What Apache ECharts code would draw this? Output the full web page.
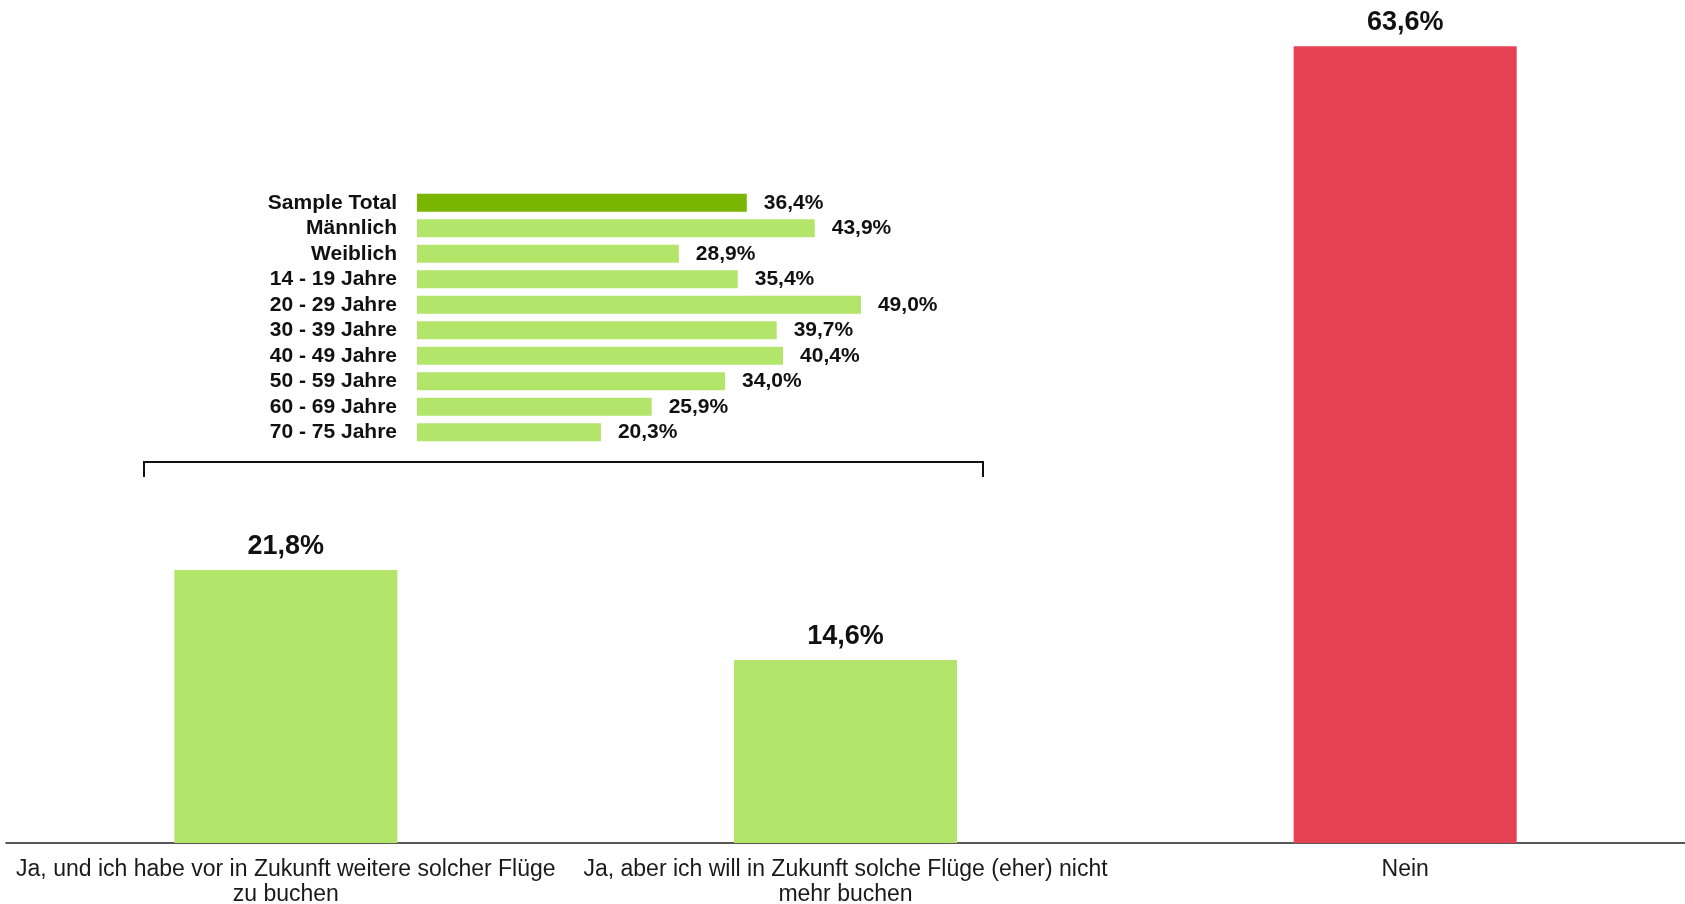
<!DOCTYPE html>
<html>
<head>
<meta charset="utf-8">
<script src="https://cdn.jsdelivr.net/npm/echarts@6/dist/echarts.min.js"></script>
<style>
  html, body { margin: 0; padding: 0; background: #fff; }
  #main { width: 1685px; height: 904px; }
</style>
</head>
<body>
<div id="main"></div>
<script>
// Hauptfrage
var mainCategories = [
    'Ja, und ich habe vor in Zukunft weitere solcher Flüge\nzu buchen',
    'Ja, aber ich will in Zukunft solche Flüge (eher) nicht\nmehr buchen',
    'Nein'
];
var mainValues = [21.8, 14.6, 63.6];

// Aufschlüsselung "Ja" gesamt
var groupNames = ['Sample Total', 'Männlich', 'Weiblich', '14 - 19 Jahre', '20 - 29 Jahre',
    '30 - 39 Jahre', '40 - 49 Jahre', '50 - 59 Jahre', '60 - 69 Jahre', '70 - 75 Jahre'];
var groupValues = [36.4, 43.9, 28.9, 35.4, 49.0, 39.7, 40.4, 34.0, 25.9, 20.3];

var lightGreen = '#b2e56a';
var darkGreen = '#7ab600';
var red = '#e64253';

function pct(v) {
    return v.toFixed(1).replace('.', ',') + '%';
}

var chartDom = document.getElementById('main');
var myChart = echarts.init(chartDom);
var option;

option = {
    animation: false,
    textStyle: { fontFamily: 'Liberation Sans, Arial, sans-serif' },
    grid: [
        { left: 6, right: 0, top: 0, bottom: 61, outerBoundsMode: 'none' },
        { left: 417, width: 453, top: 190, height: 255, outerBoundsMode: 'none' }
    ],
    xAxis: [
        {
            gridIndex: 0,
            type: 'category',
            data: mainCategories,
            axisLine: { lineStyle: { color: '#222', width: 1.5 } },
            axisTick: { show: false },
            axisLabel: {
                color: '#1a1a1a',
                fontSize: 23,
                lineHeight: 25,
                margin: 14,
                interval: 0
            }
        },
        {
            gridIndex: 1,
            type: 'value',
            min: 0,
            max: 50,
            show: false
        }
    ],
    yAxis: [
        {
            gridIndex: 0,
            type: 'value',
            min: 0,
            max: 67.3,
            show: false
        },
        {
            gridIndex: 1,
            type: 'category',
            data: groupNames,
            inverse: true,
            axisLine: { show: false },
            axisTick: { show: false },
            axisLabel: {
                color: '#111',
                fontSize: 21,
                fontWeight: 'bold',
                margin: 20,
                interval: 0
            }
        }
    ],
    series: [
        {
            type: 'bar',
            xAxisIndex: 0,
            yAxisIndex: 0,
            barWidth: 223,
            data: mainValues.map(function (v, i) {
                return { value: v, itemStyle: { color: i === 2 ? red : lightGreen } };
            }),
            label: {
                show: true,
                position: 'top',
                distance: 10,
                color: '#111',
                fontSize: 27,
                fontWeight: 'bold',
                formatter: function (p) { return pct(p.value); }
            }
        },
        {
            type: 'bar',
            xAxisIndex: 1,
            yAxisIndex: 1,
            barWidth: 18,
            data: groupValues.map(function (v, i) {
                return { value: v, itemStyle: { color: i === 0 ? darkGreen : lightGreen } };
            }),
            label: {
                show: true,
                position: 'right',
                distance: 17,
                color: '#111',
                fontSize: 21,
                fontWeight: 'bold',
                formatter: function (p) { return pct(p.value); }
            }
        }
    ],
    graphic: [
        {
            type: 'polyline',
            shape: { points: [[144, 477], [144, 462], [983, 462], [983, 477]] },
            style: { stroke: '#111', lineWidth: 2, fill: null }
        }
    ]
};

option && myChart.setOption(option);
</script>
</body>
</html>
